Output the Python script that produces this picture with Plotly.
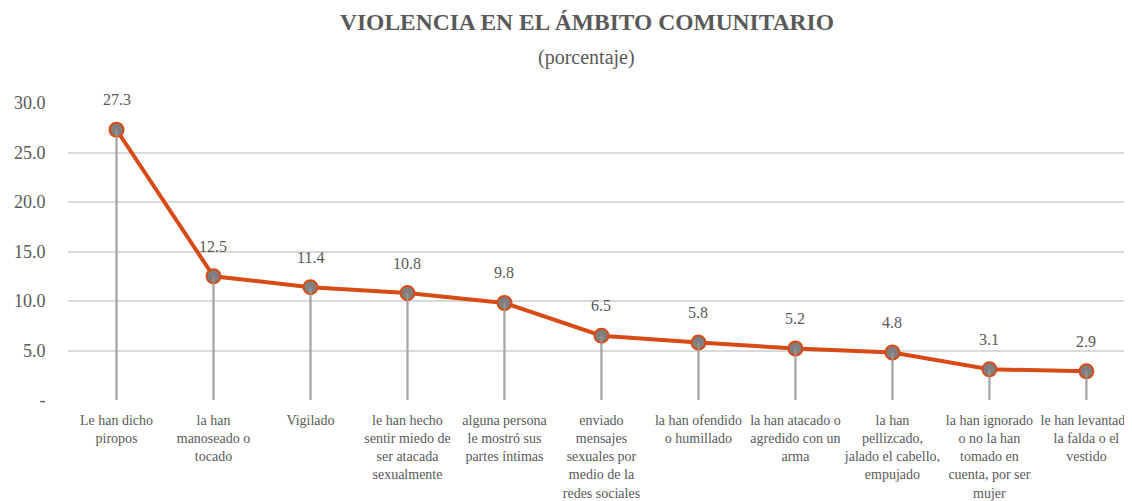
import plotly.graph_objects as go

categories = [
    "Le han dicho<br>piropos",
    "la han<br>manoseado o<br>tocado",
    "Vigilado",
    "le han hecho<br>sentir miedo de<br>ser atacada<br>sexualmente",
    "alguna persona<br>le mostró sus<br>partes íntimas",
    "enviado<br>mensajes<br>sexuales por<br>medio de la<br>redes sociales",
    "la han ofendido<br>o humillado",
    "la han atacado o<br>agredido con un<br>arma",
    "la han<br>pellizcado,<br>jalado el cabello,<br>empujado",
    "la han ignorado<br>o no la han<br>tomado en<br>cuenta, por ser<br>mujer",
    "le han levantado<br>la falda o el<br>vestido",
]
values = [27.3, 12.5, 11.4, 10.8, 9.8, 6.5, 5.8, 5.2, 4.8, 3.1, 2.9]
y_ticks = [0, 5, 10, 15, 20, 25, 30]
y_tick_labels = ["-", "5.0", "10.0", "15.0", "20.0", "25.0", "30.0"]

FONT = "Liberation Serif"
GRAY = "#595959"
ORANGE = "#D84B16"

x = list(range(len(categories)))

fig = go.Figure()

# drop lines
dx, dy = [], []
for i, v in zip(x, values):
    dx += [i, i, None]
    dy += [0, v, None]
fig.add_trace(go.Scatter(x=dx, y=dy, mode="lines",
                         line=dict(color="#a6a6a6", width=2),
                         hoverinfo="skip", showlegend=False))

fig.add_trace(go.Scatter(
    x=x, y=values, mode="lines+markers",
    line=dict(color=ORANGE, width=4),
    marker=dict(size=14, color="#7f7f7f", line=dict(color=ORANGE, width=2)),
    showlegend=False,
))

fig.add_trace(go.Scatter(x=dx, y=dy, mode="lines",
                         line=dict(color="#a6a6a6", width=2),
                         hoverinfo="skip", showlegend=False, opacity=0.6))

for i, v in zip(x, values):
    fig.add_annotation(x=i, y=v, text=f"{v:.1f}", showarrow=False,
                       yshift=30, font=dict(family=FONT, size=16, color=GRAY))

fig.add_annotation(xref="paper", yref="paper", x=0.4875, y=1.0,
                   text="<b>VIOLENCIA EN EL ÁMBITO COMUNITARIO</b>",
                   showarrow=False, yanchor="middle", yshift=81,
                   font=dict(family=FONT, size=23.5, color=GRAY))
fig.add_annotation(xref="paper", yref="paper", x=0.4875, y=1.0,
                   text="(porcentaje)", showarrow=False, yanchor="middle", yshift=46,
                   font=dict(family=FONT, size=20, color=GRAY))

fig.update_layout(
    width=1124, height=493,
    margin=dict(l=60, r=0, t=95, b=98),
    paper_bgcolor="white", plot_bgcolor="white",
    font=dict(family=FONT, color=GRAY),
    xaxis=dict(
        tickmode="array", tickvals=x, ticktext=categories,
        range=[-0.5, 10.47], showgrid=False, zeroline=False,
        tickfont=dict(family=FONT, size=14, color=GRAY),
        showline=False, ticks="outside", ticklen=7, tickcolor="rgba(0,0,0,0)",
        ticklabeloverflow="allow",
    ),
    yaxis=dict(
        tickmode="array", tickvals=y_ticks, ticktext=y_tick_labels,
        range=[0, 30], showgrid=True, gridcolor="#d9d9d9", gridwidth=2,
        zeroline=False, tickfont=dict(family=FONT, size=18, color=GRAY),
        ticks="outside", ticklen=18, tickcolor="rgba(0,0,0,0)",
    ),
)

fig.write_html("out.html")
